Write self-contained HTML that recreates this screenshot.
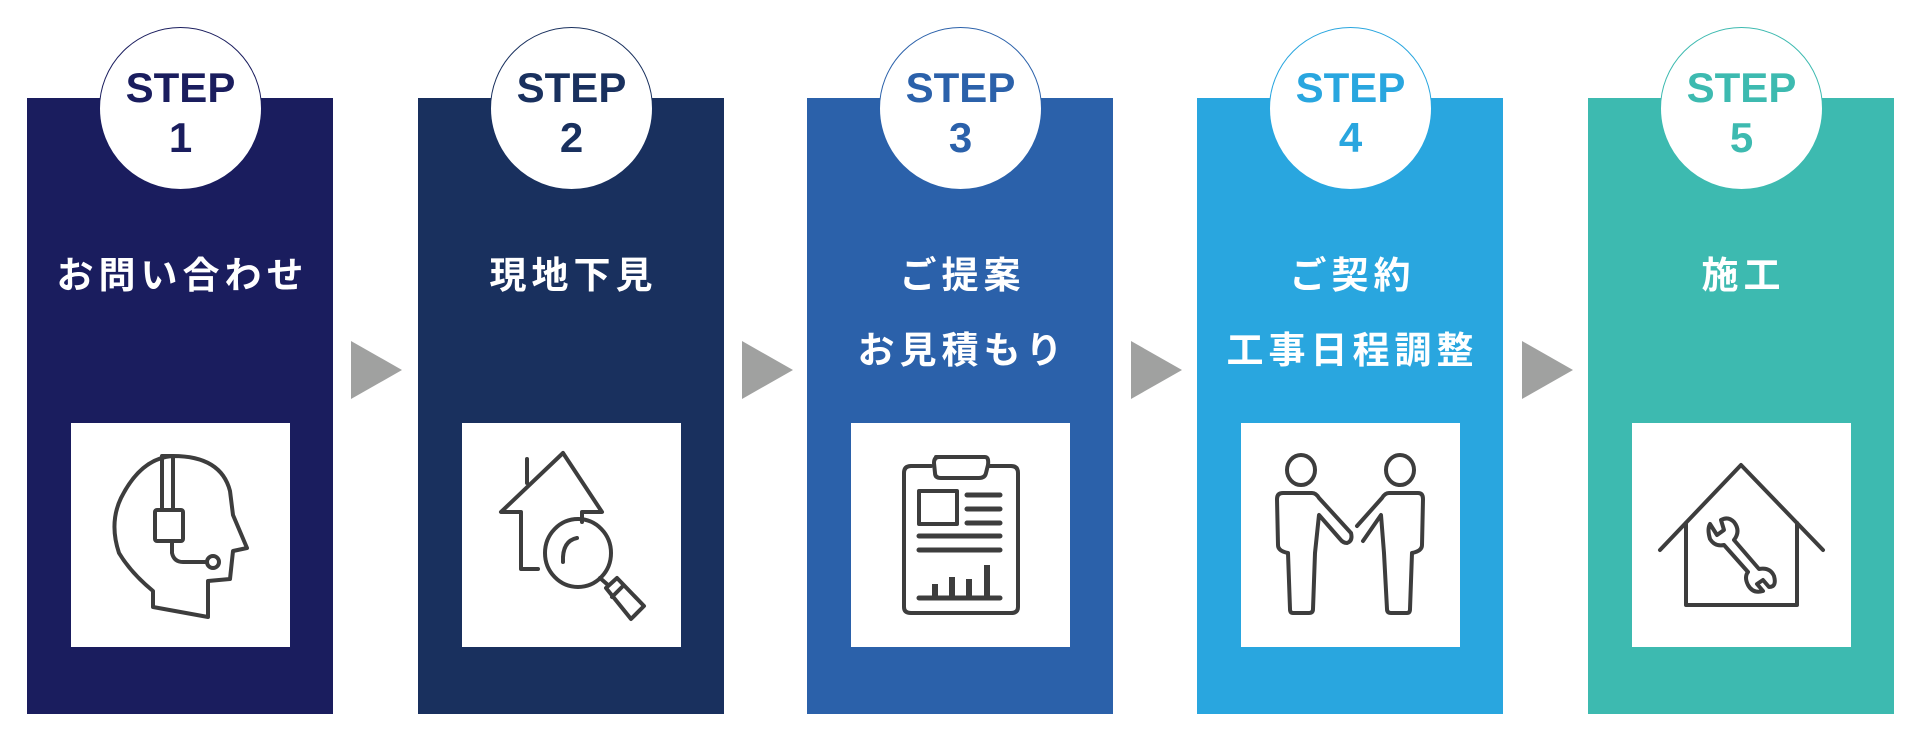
<!DOCTYPE html>
<html><head><meta charset="utf-8"><style>
body{margin:0;width:1920px;height:741px;background:#fff;position:relative;overflow:hidden;font-family:"Liberation Sans","Noto Sans CJK JP",sans-serif}
.p{position:absolute;top:98px;width:306px;height:616px}
.c{position:absolute;top:27px;width:161px;height:161px;border-radius:50%;background:#fff;border:1px solid;text-align:center;font-weight:bold;font-family:"Liberation Sans",sans-serif}
.c .s{position:absolute;top:39px;left:0;right:0;font-size:42px;line-height:42px}
.c .n{position:absolute;top:89px;left:0;right:0;font-size:42px;line-height:42px}
.t{position:absolute;left:0;width:306px;text-align:center;color:#fff;font-weight:bold;font-size:37px;letter-spacing:5px;text-indent:5px;font-family:"Noto Sans CJK JP",sans-serif;line-height:50px}
.b{position:absolute;left:44px;top:325px;width:219px;height:224px;background:#fff}
.a{position:absolute;top:341px;width:0;height:0;border-top:29px solid transparent;border-bottom:29px solid transparent;border-left:51px solid #a0a1a0}
svg{position:absolute;left:0;top:0}
svg *{fill:none;stroke:#3d3d3d;stroke-width:4;stroke-linejoin:round;stroke-linecap:round}
</style></head><body>
<div class="p" style="left:27px;background:#1a1d5e"><div class="t" style="top:149px">お問い合わせ</div>
<div class="b"><svg width="219" height="224" viewBox="0 0 219 224">
<path d="M82,184 L82,168 Q60,150 48,130 Q38,100 50,75 Q70,35 102,33 Q150,33 159,68 L162,92 L176,125 L162,128 L159,156 L137,158 L137,194 Z"/>
<rect x="91" y="33" width="11" height="54"/><rect x="84" y="87" width="28" height="31" rx="2"/>
<path d="M101,118 L101,130 Q103,139 112,139 L136,139"/><circle cx="142" cy="139" r="6"/></svg></div></div>
<div class="p" style="left:418px;background:#19305e"><div class="t" style="top:149px">現地下見</div>
<div class="b"><svg width="219" height="224" viewBox="0 0 219 224">
<path d="M65,36 L65,60"/>
<path d="M101,30 L39,89 L59,89 L59,146 L76,146"/>
<path d="M101,30 L140,89 L120,89 L120,99"/>
<ellipse cx="116" cy="130" rx="33" ry="34"/><path d="M101,139 Q100,118 115,115"/>
<path d="M138,155 L146,162"/>
<path d="M144,165 L155,155 L182,183 L169,196 Z"/><path d="M150,174 L160,164"/></svg></div></div>
<div class="p" style="left:807px;background:#2b61aa"><div class="t" style="top:149px">ご提案</div><div class="t" style="top:224px">お見積もり</div>
<div class="b"><svg width="219" height="224" viewBox="0 0 219 224">
<path d="M80,43 L60,43 Q53,43 53,50 L53,184 Q53,190 60,190 L160,190 Q167,190 167,184 L167,50 Q167,43 160,43 L138,43"/>
<path d="M85,34 L134,34 Q138,34 137,42 L135,50 Q134,55 128,55 L90,55 Q84,55 84,50 L83,40 Q83,34 88,34"/>
<rect x="68" y="68" width="38" height="33"/>
<path d="M116,72 L149,72 M116,86 L149,86 M116,100 L149,100 M68,113 L149,113 M68,127 L149,127 M68,175 L149,175" style="stroke-width:5"/>
<path d="M84,175 L84,161 M101,175 L101,154 M118,175 L118,156 M136,175 L136,142" style="stroke-width:6;stroke-linecap:butt"/></svg></div></div>
<div class="p" style="left:1197px;background:#29a6df"><div class="t" style="top:149px">ご契約</div><div class="t" style="top:224px">工事日程調整</div>
<div class="b"><svg width="219" height="224" viewBox="0 0 219 224">
<ellipse cx="60" cy="47" rx="14" ry="15"/><ellipse cx="159" cy="47" rx="14" ry="15"/>
<path d="M42,70 L71,70 Q75,70 78,75 L110,110 Q112,118 106,120 Q102,120 99,116 L78,92 L74,130 L72,186 Q72,190 68,190 L52,190 Q49,190 49,186 L47,130 Q37,128 37,122 L36,76 Q36,70 42,70 Z"/>
<path d="M177,70 L148,70 Q144,70 141,75 L116,103 M122,118 L140,92 L143,130 L146,186 Q146,190 150,190 L166,190 Q169,190 169,186 L171,130 Q181,128 181,122 L182,76 Q182,70 177,70"/></svg></div></div>
<div class="p" style="left:1588px;background:#3dbab0"><div class="t" style="top:149px">施工</div>
<div class="b"><svg width="219" height="224" viewBox="0 0 219 224">
<path d="M28,127 L109,42 L191,127"/><path d="M54,100 L54,182 L165,182 L165,100"/>
<path d="M78,101 L85,112 L92,107 L89,97 Q96,93 102,99 Q109,108 102,117 L127,146 Q138,144 142,153 Q145,164 137,164 L131,157 L125,161 L131,168 Q121,171 116,162 Q112,154 116,149 L92,122 Q83,124 78,116 Q75,106 78,101 Z"/></svg></div></div>
<div class="c" style="left:99px;border-color:#1a1d5e;color:#1a1d5e"><div class="s">STEP</div><div class="n">1</div></div>
<div class="c" style="left:490px;border-color:#19305e;color:#19305e"><div class="s">STEP</div><div class="n">2</div></div>
<div class="c" style="left:879px;border-color:#2b61aa;color:#2b61aa"><div class="s">STEP</div><div class="n">3</div></div>
<div class="c" style="left:1269px;border-color:#29a6df;color:#29a6df"><div class="s">STEP</div><div class="n">4</div></div>
<div class="c" style="left:1660px;border-color:#3dbab0;color:#3dbab0"><div class="s">STEP</div><div class="n">5</div></div>
<div class="a" style="left:351px"></div><div class="a" style="left:742px"></div><div class="a" style="left:1131px"></div><div class="a" style="left:1522px"></div>
</body></html>
